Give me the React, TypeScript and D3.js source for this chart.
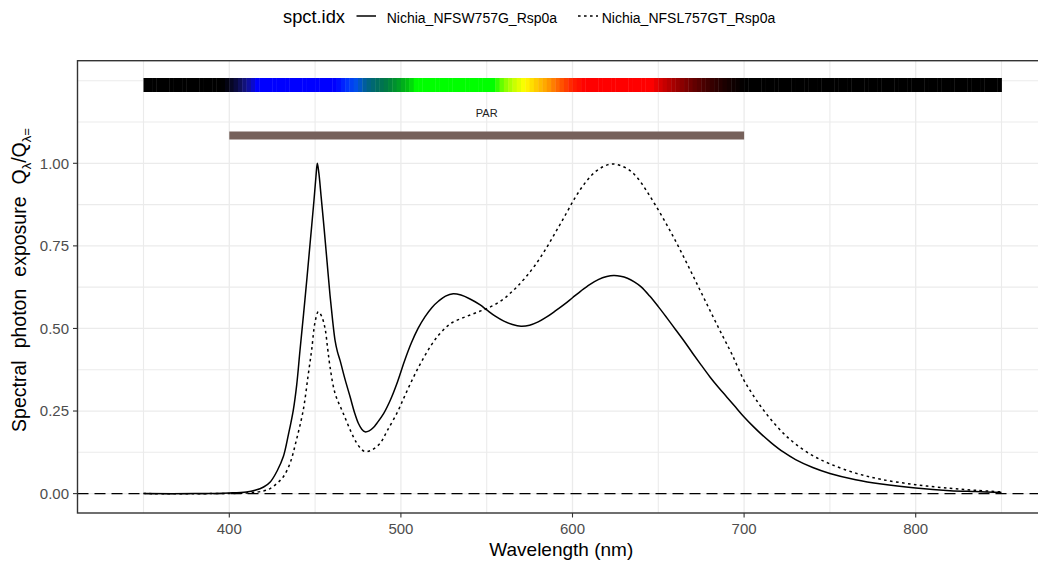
import React from "react";
import * as d3 from "d3";

// ---- data ----
const seriesNames = ["Nichia_NFSW757G_Rsp0a", "Nichia_NFSL757GT_Rsp0a"];

const solidW = [350, 380, 400, 410, 415, 420, 424, 428, 431.5, 434.5, 437.3, 439.3, 441.2, 443.3, 445.3, 447.3, 449.3, 450.5, 451.3, 452.2, 453.5, 455.3, 457, 458.7, 460.3, 461.6, 463, 464.5, 467.5, 470.4, 473, 475.2, 477.2, 479.1, 481.5, 484, 486, 490, 494, 498, 502, 506, 510, 514, 518, 522, 526, 530.5, 535, 540, 546, 550, 555, 560, 565, 570, 575, 580, 585, 590, 595, 600, 605, 610, 615, 620, 624, 628, 632, 636, 640, 645, 650, 655, 660, 665, 670, 675, 680, 685, 690, 695, 700, 705, 710, 716, 722.8, 730, 740, 750, 765, 780, 800, 820, 835, 850];
const solidV = [0, 0, 0.002, 0.005, 0.01, 0.02, 0.036, 0.07, 0.112, 0.18, 0.253, 0.33, 0.434, 0.545, 0.655, 0.77, 0.885, 0.96, 1.0, 0.97, 0.9, 0.8, 0.7, 0.6, 0.52, 0.465, 0.43, 0.404, 0.345, 0.293, 0.245, 0.213, 0.195, 0.187, 0.19, 0.2, 0.213, 0.243, 0.285, 0.338, 0.4, 0.455, 0.5, 0.535, 0.563, 0.583, 0.598, 0.605, 0.601, 0.59, 0.572, 0.556, 0.537, 0.522, 0.512, 0.507, 0.51, 0.52, 0.535, 0.553, 0.572, 0.593, 0.614, 0.633, 0.648, 0.657, 0.66, 0.658, 0.652, 0.641, 0.626, 0.598, 0.566, 0.532, 0.497, 0.462, 0.425, 0.389, 0.354, 0.322, 0.292, 0.262, 0.232, 0.205, 0.18, 0.153, 0.126, 0.103, 0.079, 0.061, 0.042, 0.029, 0.017, 0.009, 0.006, 0.003];

const dottedW = [350, 390, 410, 420, 424, 428, 431.5, 435.4, 439, 443.1, 446, 448, 450, 451.9, 453.8, 455.8, 457.3, 458.7, 461.6, 466.4, 472.3, 476, 479.1, 483, 487.8, 492, 498, 502, 506, 510, 514, 518, 522, 526, 530, 535, 540, 546, 550, 555, 560, 564, 568, 573, 578, 584, 590, 596, 602, 608, 613, 618, 623, 628, 633.5, 638, 643, 648, 653, 658, 663, 668, 673, 678, 683, 688, 693, 699.5, 705, 710, 716, 722.8, 730, 740, 750, 765, 780, 800, 820, 835, 850];
const dottedV = [0, 0, 0.002, 0.008, 0.016, 0.032, 0.051, 0.092, 0.16, 0.253, 0.36, 0.435, 0.52, 0.551, 0.537, 0.5, 0.44, 0.384, 0.304, 0.243, 0.172, 0.14, 0.127, 0.132, 0.152, 0.19, 0.247, 0.293, 0.338, 0.38, 0.418, 0.452, 0.48, 0.502, 0.518, 0.53, 0.54, 0.552, 0.56, 0.573, 0.59, 0.608, 0.628, 0.657, 0.69, 0.737, 0.79, 0.845, 0.9, 0.945, 0.973, 0.99, 0.998, 0.993, 0.978, 0.955, 0.918, 0.876, 0.832, 0.785, 0.735, 0.683, 0.63, 0.577, 0.524, 0.472, 0.421, 0.347, 0.3, 0.262, 0.222, 0.183, 0.15, 0.115, 0.09, 0.062, 0.043, 0.027, 0.016, 0.01, 0.005];

const xTicks = [400, 500, 600, 700, 800];
const xMinor = [350, 450, 550, 650, 750, 850];
const yTicks = [0, 0.25, 0.5, 0.75, 1];
const yMinor = [0.125, 0.375, 0.625, 0.875, 1.125, 1.25];

// colour bar (wavelength -> colour stops) and waveband
const colourStopW = [350, 396, 400, 404, 408, 412, 416, 462, 468, 474, 480, 486, 492, 498, 504, 509, 554, 560, 566, 572, 578, 585, 592, 600, 607, 646, 652, 660, 670, 680, 690, 700, 850];
const colourStopC = ["#000000", "#000000", "#05051a", "#0a0a40", "#12126e", "#1010a8", "#0000ff", "#0000ff", "#0030ff", "#0050e8", "#00608c", "#006c60", "#007c40", "#009a28", "#00c010", "#00ff00", "#00ff00", "#80ff00", "#c8ff00", "#ffff00", "#ffd000", "#ffa000", "#ff6000", "#ff2000", "#ff0000", "#ff0000", "#d00000", "#a00000", "#680000", "#3a0000", "#180000", "#000000", "#000000"];
const colourBarRange = [350, 850];
const colourStep = 2.5;
const parRange = [400, 700];
const parLabel = "PAR";
const parColour = "#76615b";

const FONT = "'Liberation Sans', Arial, Helvetica, sans-serif";

export default function App() {
  const W = 1038, H = 565;
  const left = 77.5, right = 1045, top = 60.7, bottom = 513;

  const x = d3.scaleLinear().domain([400, 800]).range([229.3, 915.7]);
  const y = d3.scaleLinear().domain([0, 1]).range([493.6, 163.3]);

  const line = d3
    .line<[number, number]>()
    .x((d) => x(d[0]))
    .y((d) => y(d[1]))
    .curve(d3.curveCatmullRom.alpha(0.5));

  const solidPath = line(solidW.map((w, i) => [w, solidV[i]] as [number, number])) || "";
  const dottedPath = line(dottedW.map((w, i) => [w, dottedV[i]] as [number, number])) || "";

  const colourScale = d3
    .scaleLinear<string>()
    .domain(colourStopW)
    .range(colourStopC)
    .interpolate(d3.interpolateRgb);

  const steps = d3.range(colourBarRange[0], colourBarRange[1], colourStep);

  const gridCol = "#ebebeb";
  const axisCol = "#333333";
  const tickTextCol = "#4d4d4d";

  return (
    <svg
      width={W}
      height={H}
      style={{ position: "absolute", left: 0, top: 0, background: "#fff" }}
      fontFamily={FONT}
    >
      <rect x={0} y={0} width={W} height={H} fill="#fff" />
      {/* grid */}
      {yMinor.map((v) => (
        <line key={"ym" + v} x1={left} x2={right} y1={y(v)} y2={y(v)} stroke={gridCol} strokeWidth={1.1} />
      ))}
      {xMinor.map((v) => (
        <line key={"xm" + v} x1={x(v)} x2={x(v)} y1={top} y2={bottom} stroke={gridCol} strokeWidth={1.1} />
      ))}
      {yTicks.map((v) => (
        <line key={"yg" + v} x1={left} x2={right} y1={y(v)} y2={y(v)} stroke={gridCol} strokeWidth={1.3} />
      ))}
      {xTicks.map((v) => (
        <line key={"xg" + v} x1={x(v)} x2={x(v)} y1={top} y2={bottom} stroke={gridCol} strokeWidth={1.3} />
      ))}

      {/* colour bar */}
      {steps.map((w) => (
        <rect
          key={"c" + w}
          x={x(w)}
          y={78}
          width={x(Math.min(w + colourStep, colourBarRange[1])) - x(w) + 0.4}
          height={14}
          fill={colourScale(w + colourStep / 2)}
        />
      ))}

      {/* PAR waveband */}
      <rect x={x(parRange[0])} y={131.5} width={x(parRange[1]) - x(parRange[0])} height={8} fill={parColour} />
      <text x={x((parRange[0] + parRange[1]) / 2)} y={117} fontSize={11} textAnchor="middle" fill="#222">
        {parLabel}
      </text>

      {/* zero line */}
      <line x1={left} x2={right} y1={y(0)} y2={y(0)} stroke="#000" strokeWidth={1.4} strokeDasharray="11,6" />

      {/* spectra */}
      <path d={solidPath} fill="none" stroke="#000" strokeWidth={1.5} />
      <path d={dottedPath} fill="none" stroke="#000" strokeWidth={1.5} strokeDasharray="2.6,3.4" />

      {/* panel border */}
      <rect x={left} y={top} width={right - left} height={bottom - top} fill="none" stroke={axisCol} strokeWidth={1.4} />

      {/* x axis */}
      {xTicks.map((v) => (
        <g key={"xt" + v}>
          <line x1={x(v)} x2={x(v)} y1={bottom} y2={bottom + 4.5} stroke={axisCol} strokeWidth={1.1} />
          <text x={x(v)} y={534} fontSize={15} textAnchor="middle" fill={tickTextCol}>
            {v}
          </text>
        </g>
      ))}
      {/* y axis */}
      {yTicks.map((v) => (
        <g key={"yt" + v}>
          <line x1={left - 4.5} x2={left} y1={y(v)} y2={y(v)} stroke={axisCol} strokeWidth={1.1} />
          <text x={69} y={y(v) + 5.3} fontSize={15} textAnchor="end" fill={tickTextCol}>
            {d3.format(".2f")(v)}
          </text>
        </g>
      ))}

      {/* axis titles */}
      <text x={(left + right) / 2} y={556} fontSize={19} textAnchor="middle" fill="#000">
        Wavelength (nm)
      </text>
      <text transform={`translate(26,280) rotate(-90)`} fontSize={19.5} textAnchor="middle" fill="#000">
        <tspan>Spectral</tspan>
        <tspan dx={12}>photon</tspan>
        <tspan dx={12}>exposure</tspan>
        <tspan dx={12}>Q</tspan>
        <tspan dy={4.5} fontSize={13}>λ</tspan>
        <tspan dy={-4.5}>/Q</tspan>
        <tspan dy={4.5} fontSize={13}>λ=</tspan>
      </text>

      {/* legend */}
      <text x={283} y={23} fontSize={18.3} fill="#000">spct.idx</text>
      <line x1={356.5} x2={376} y1={16} y2={16} stroke="#000" strokeWidth={1.5} />
      <text x={386.7} y={22.5} fontSize={14} fill="#000">{seriesNames[0]}</text>
      <line x1={578} x2={598} y1={16} y2={16} stroke="#000" strokeWidth={1.5} strokeDasharray="2.6,3.4" />
      <text x={601.7} y={22.5} fontSize={14} fill="#000">{seriesNames[1]}</text>
    </svg>
  );
}
